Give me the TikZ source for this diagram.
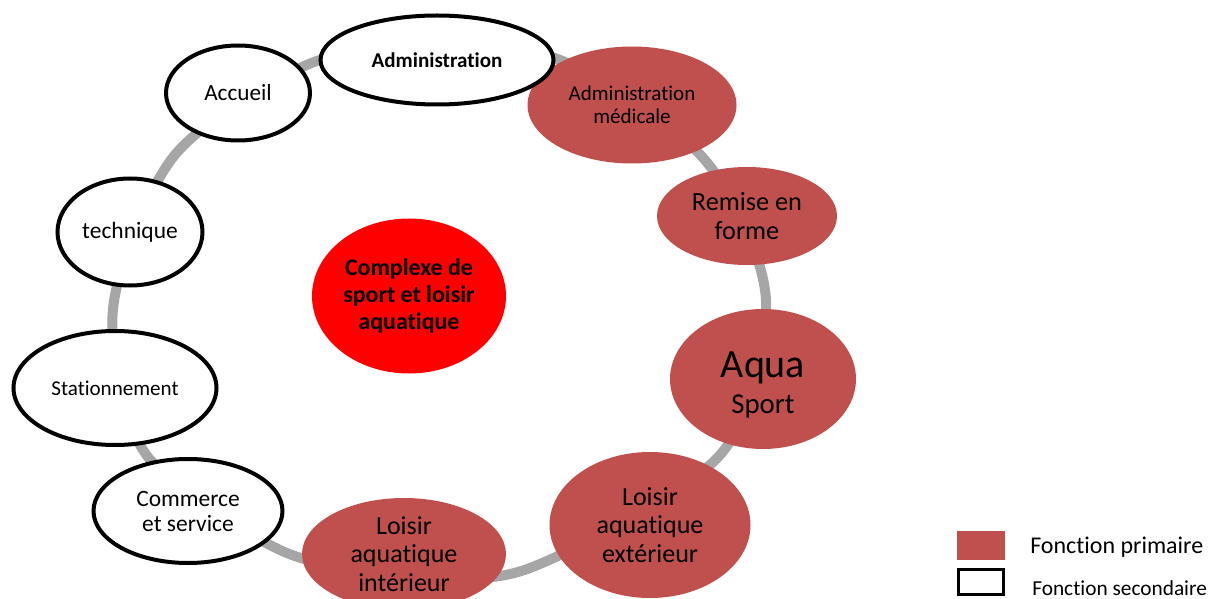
\documentclass[tikz,border=0pt]{standalone}
\usepackage{fontspec}
\setmainfont{Carlito}[Ligatures=NoCommon]
\usetikzlibrary{shapes.geometric}
\definecolor{prim}{HTML}{C0504D}
\definecolor{ringgray}{HTML}{A6A6A6}
\definecolor{centre}{HTML}{FF0000}
\begin{document}
\begin{tikzpicture}[x=0.75pt,y=-0.75pt,
  sec/.style={ellipse, draw=black, line width=3pt, fill=white, inner sep=0pt, align=center, text=black},
  pri/.style={ellipse, fill=prim, inner sep=0pt, align=center, text=black},
  ringline/.style={draw=ringgray, line width=7.5pt}]
\useasboundingbox (0,0) rectangle (1221,599);
\clip (0,0) rectangle (1221,599);
% ring
\coordinate (r1) at (113,309);
\coordinate (r2) at (145,453);
\coordinate (r3) at (280,550);
\coordinate (r4) at (405,575);
\coordinate (r5) at (530,568);
\coordinate (r6) at (720,455);
\coordinate (r7) at (766,300);
\coordinate (r8) at (705,160);
\coordinate (r9) at (565,62);
\coordinate (r10) at (440,45);
\coordinate (r11) at (309,64);
\coordinate (r12) at (174,156);
\draw[ringline] plot[smooth cycle] coordinates {(r1) (r2) (r3) (r4) (r5) (r6) (r7) (r8) (r9) (r10) (r11) (r12)};
% nodes
\node[pri, minimum width=156.75pt, minimum height=87.75pt, font=\fontsize{15.8pt}{17.25pt}\selectfont] (med) at (632,105) {Administration\\médicale};
\node[sec, minimum width=174.75pt, minimum height=66.75pt, font=\bfseries\fontsize{15.8pt}{19pt}\selectfont] (admin) at (437,60) {Administration};
\node[sec, minimum width=108pt, minimum height=71.25pt, font=\fontsize{17.4pt}{20pt}\selectfont] (acc) at (238,93) {Accueil};
\node[sec, minimum width=108.75pt, minimum height=80.25pt, font=\fontsize{17.6pt}{20pt}\selectfont] (tech) at (130,232) {technique};
\node[sec, minimum width=152.25pt, minimum height=85.5pt, font=\fontsize{15.8pt}{18pt}\selectfont] (stat) at (115,388) {Stationnement};
\node[sec, minimum width=141.75pt, minimum height=78pt, font=\fontsize{17.6pt}{18.75pt}\selectfont] (comm) at (188,511) {Commerce\\et service};
\node[pri, minimum width=153pt, minimum height=84pt, font=\fontsize{19.5pt}{21.25pt}\selectfont] (int) at (404,554) {Loisir\\aquatique\\intérieur};
\node[pri, minimum width=150.75pt, minimum height=109.5pt, font=\fontsize{19.5pt}{21.25pt}\selectfont] (ext) at (650,525) {Loisir\\aquatique\\extérieur};
\node[pri, minimum width=139.5pt, minimum height=105pt, text height=57pt, text depth=5pt, font=\fontsize{21.6pt}{27pt}\selectfont] (aqua) at (763,379) {{\fontsize{30pt}{27pt}\selectfont Aqua}\\Sport};
\node[pri, minimum width=135pt, minimum height=73.5pt, font=\fontsize{19.7pt}{21.75pt}\selectfont] (rem) at (747,216) {Remise en\\forme};
\node[ellipse, fill=centre, inner sep=0pt, align=center, minimum width=145.5pt, minimum height=116.25pt, font=\bfseries\fontsize{17.9pt}{20pt}\selectfont] (cx) at (409,296) {Complexe de\\sport et loisir\\aquatique};
% legend
\node[fill=prim, minimum width=36pt, minimum height=21.75pt, inner sep=0pt] (lp) at (981,545.5) {};
\node[draw=black, line width=2.25pt, fill=white, minimum width=33.75pt, minimum height=18.75pt, inner sep=0pt] (ls) at (981,582) {};
\node[anchor=base west, font=\fontsize{18pt}{20pt}\selectfont, inner sep=0pt] (ltp) at (1030,553) {Fonction primaire};
\node[anchor=base west, font=\fontsize{16pt}{18pt}\selectfont, inner sep=0pt] (lts) at (1032,595) {Fonction secondaire};
\end{tikzpicture}
\end{document}
